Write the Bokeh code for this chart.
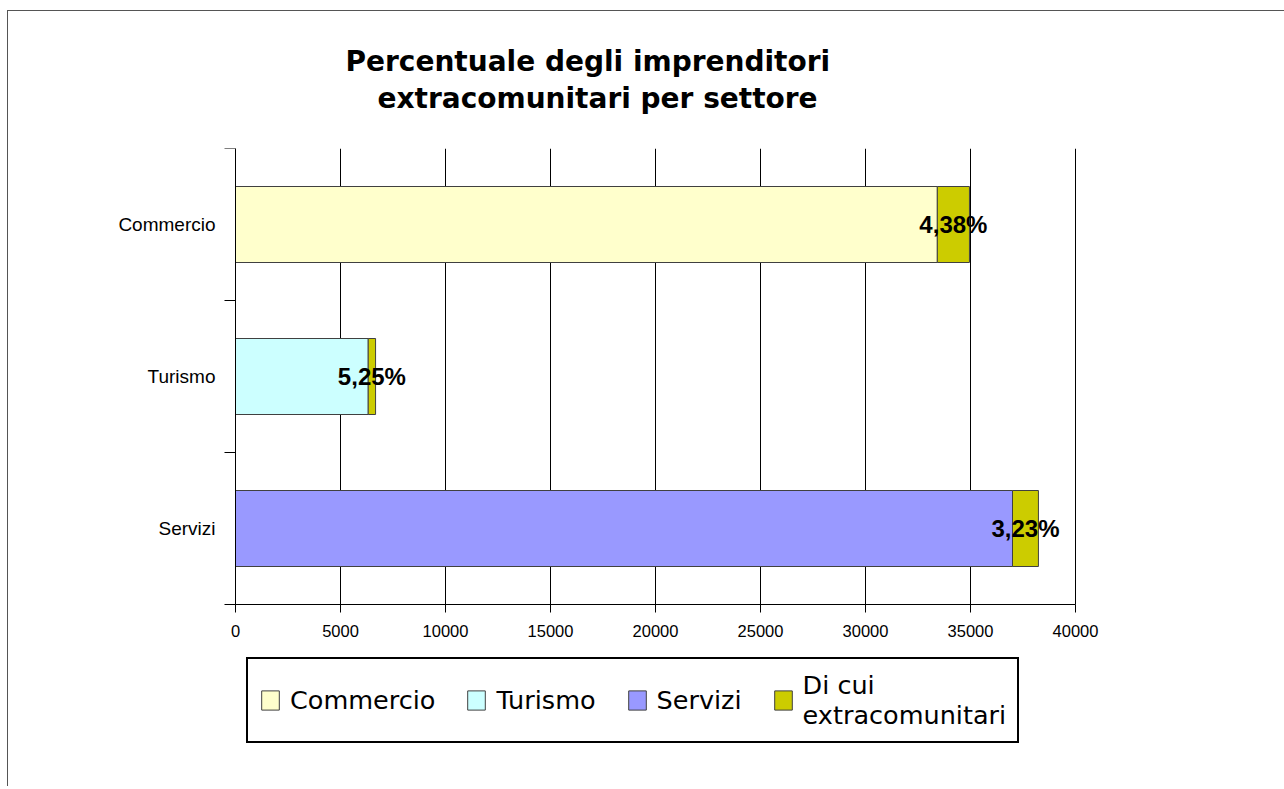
from bokeh.plotting import figure
from bokeh.models import (Range1d, FixedTicker, Title, Legend, LegendItem,
                          ColumnDataSource, LinearAxis)
from bokeh.core.properties import value
from bokeh.embed import file_html
from bokeh.resources import INLINE

# ---- data ----
categories = ["Commercio", "Turismo", "Servizi"]          # top to bottom
base_values = [33420, 6320, 37000]                         # sector entrepreneurs (non extra)
extra_values = [1530, 350, 1235]                           # di cui extracomunitari
pct_labels = ["4,38%", "5,25%", "3,23%"]
base_colors = ["#FFFFCC", "#CCFFFF", "#9999FF"]
extra_color = "#CCCC00"
x_ticks = [0, 5000, 10000, 15000, 20000, 25000, 30000, 35000, 40000]
title_lines = ["Percentuale degli imprenditori", "extracomunitari per settore"]
legend_labels = ["Commercio", "Turismo", "Servizi", "Di cui\nextracomunitari"]

n = len(categories)
ys = [n - i - 0.5 for i in range(n)]
ends = [b + e for b, e in zip(base_values, extra_values)]
mids = [b + e / 2 for b, e in zip(base_values, extra_values)]
x_max = x_ticks[-1]

src = ColumnDataSource(dict(y=ys, base=base_values, end=ends, mid=mids,
                            color=base_colors, pct=pct_labels))

# layout: plot area 840 x 456 px (152 px per category); the frame is padded
# left/right/below so tick labels and the legend live inside it
PLOT_W, BAND_PX = 840, 152
PAD_L, PAD_R = 20, 30
FRAME_H = 598
unit = x_max / PLOT_W
x_start, x_end = -PAD_L * unit, x_max + PAD_R * unit
y_start = n - FRAME_H / BAND_PX

p = figure(frame_width=PLOT_W + PAD_L + PAD_R, frame_height=FRAME_H,
           min_border_left=207, min_border_right=179,
           min_border_top=137, min_border_bottom=40,
           x_range=Range1d(x_start, x_end), y_range=Range1d(y_start, n),
           x_axis_location=None,
           output_backend="svg", toolbar_location=None, title=None)
p.margin = (10, 0, 0, 7)
p.styles = {"border-left": "1px solid #555555", "border-top": "1px solid #555555"}
p.outline_line_color = None
p.background_fill_color = "white"
p.border_fill_color = "white"

# vertical grid lines (only over the plot area)
p.xgrid.grid_line_color = None
p.ygrid.grid_line_color = None
p.segment(x0=x_ticks, y0=[0] * len(x_ticks), x1=x_ticks, y1=[n] * len(x_ticks),
          line_color="black", line_width=1)

# x axis fixed at y = 0
xaxis = LinearAxis(fixed_location=0, ticker=FixedTicker(ticks=x_ticks),
                   bounds=(0, x_max))
xaxis.axis_line_color = "black"
xaxis.major_tick_line_color = "black"
xaxis.major_tick_out = 8
xaxis.major_tick_in = 0
xaxis.minor_tick_line_color = None
xaxis.major_label_text_font = "Liberation Sans"
xaxis.major_label_text_font_size = "16.5px"
xaxis.major_label_text_color = "black"
xaxis.major_label_standoff = 12
p.add_layout(xaxis, "below")

# y axis labels (category names) at the frame edge
p.yaxis.ticker = FixedTicker(ticks=ys)
p.yaxis.major_label_overrides = {y: c for y, c in zip(ys, categories)}
p.yaxis.axis_line_color = None
p.yaxis.major_tick_line_color = None
p.yaxis.minor_tick_line_color = None
p.yaxis.major_tick_out = 0
p.yaxis.minor_tick_out = 0
p.yaxis.major_label_text_font = "Liberation Sans"
p.yaxis.major_label_text_font_size = "19px"
p.yaxis.major_label_text_color = "black"
p.yaxis.major_label_standoff = 0

# y axis line at x = 0 with ticks at category boundaries
yline = LinearAxis(fixed_location=0, bounds=(0, n),
                   ticker=FixedTicker(ticks=[], minor_ticks=[float(i) for i in range(n + 1)]))
yline.axis_line_color = "black"
yline.major_tick_line_color = None
yline.minor_tick_line_color = "black"
yline.minor_tick_out = 11
yline.minor_tick_in = 0
yline.major_label_text_font_size = "0px"
p.add_layout(yline, "left")

# bars
r_base = p.hbar(y="y", left=0, right="base", height=0.5, source=src,
                fill_color="color", line_color="#404040", line_width=1)
r_extra = p.hbar(y="y", left="base", right="end", height=0.5, source=src,
                 fill_color=extra_color, line_color="#404040", line_width=1)

p.text(x="mid", y="y", text="pct", source=src,
       text_font=value("Liberation Sans"), text_font_style="bold",
       text_font_size="24px", text_align="center", text_baseline="middle",
       text_color="black")

# title: two lines stacked above the frame (last added is outermost)
title_offsets = [130, 162]
title_standoffs = [-64, 68]
for i in reversed(range(len(title_lines))):
    p.add_layout(Title(text=title_lines[i], align="left", offset=title_offsets[i],
                       standoff=title_standoffs[i],
                       text_font="DejaVu Sans", text_font_style="bold",
                       text_font_size="28px", text_color="black"), "above")

# legend (inside the padded frame, below the axis)
items = [LegendItem(label=legend_labels[i], renderers=[r_base], index=i)
         for i in range(n)]
items.append(LegendItem(label=legend_labels[3], renderers=[r_extra], index=0))
legend = Legend(items=items, orientation="horizontal", location=(31, 3),
                label_text_font="DejaVu Sans", label_text_font_size="25.5px",
                label_text_color="black", label_text_line_height=1.0,
                glyph_width=22, glyph_height=24, label_standoff=9, spacing=30,
                padding=11, margin=0,
                border_line_color="black", border_line_width=2,
                border_line_alpha=1.0,
                background_fill_color="white", background_fill_alpha=1)
p.add_layout(legend, "center")

open("out.html", "w").write(file_html(p, INLINE))
